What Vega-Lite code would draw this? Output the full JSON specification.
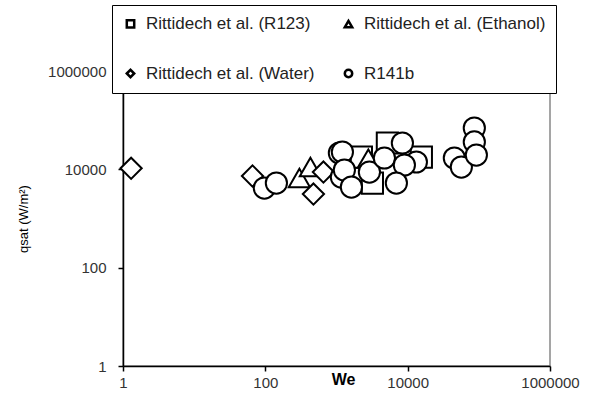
{
  "$schema": "https://vega.github.io/schema/vega-lite/v6.json",
  "width": 427,
  "height": 295,
  "autosize": "none",
  "padding": {"left": 123, "top": 71, "right": 47, "bottom": 36},
  "background": "white",
  "config": {
    "view": {"stroke": "#888888", "strokeWidth": 1.5},
    "font": "Liberation Sans"
  },
  "data": {
    "values": [
      {"series": "Rittidech et al. (R123)", "We": 2237, "q": 17800},
      {"series": "Rittidech et al. (R123)", "We": 3194, "q": 5260},
      {"series": "Rittidech et al. (R123)", "We": 5188, "q": 34350},
      {"series": "Rittidech et al. (R123)", "We": 15570, "q": 17800},
      {"series": "Rittidech et al. (Ethanol)", "We": 301, "q": 6650},
      {"series": "Rittidech et al. (Ethanol)", "We": 430, "q": 11140},
      {"series": "Rittidech et al. (Ethanol)", "We": 2800, "q": 16500},
      {"series": "Rittidech et al. (Water)", "We": 1.3, "q": 10500},
      {"series": "Rittidech et al. (Water)", "We": 66, "q": 7310},
      {"series": "Rittidech et al. (Water)", "We": 474, "q": 3140},
      {"series": "Rittidech et al. (Water)", "We": 655, "q": 8810},
      {"series": "R141b", "We": 97, "q": 4160},
      {"series": "R141b", "We": 143, "q": 5260},
      {"series": "R141b", "We": 1098, "q": 21500},
      {"series": "R141b", "We": 1210, "q": 22500},
      {"series": "R141b", "We": 1172, "q": 6970},
      {"series": "R141b", "We": 1290, "q": 9680},
      {"series": "R141b", "We": 1620, "q": 4360},
      {"series": "R141b", "We": 2900, "q": 8810},
      {"series": "R141b", "We": 4710, "q": 17000},
      {"series": "R141b", "We": 8430, "q": 34350},
      {"series": "R141b", "We": 13250, "q": 14090},
      {"series": "R141b", "We": 8990, "q": 12250},
      {"series": "R141b", "We": 6940, "q": 5260},
      {"series": "R141b", "We": 45300, "q": 17000},
      {"series": "R141b", "We": 56800, "q": 11140},
      {"series": "R141b", "We": 86400, "q": 69300},
      {"series": "R141b", "We": 86400, "q": 36000},
      {"series": "R141b", "We": 92300, "q": 19550}
    ]
  },
  "mark": {
    "type": "point",
    "filled": true,
    "fill": "white",
    "stroke": "black",
    "strokeWidth": 2,
    "size": 450,
    "opacity": 1
  },
  "encoding": {
    "x": {
      "field": "We",
      "type": "quantitative",
      "scale": {"type": "log", "domain": [1, 1000000]},
      "axis": {
        "values": [1, 100, 10000, 1000000],
        "format": "d",
        "grid": false,
        "domainColor": "black",
        "domainWidth": 1.5,
        "tickColor": "black",
        "tickWidth": 1.5,
        "tickSize": 5,
        "labelFontSize": 15,
        "labelColor": "#333333",
        "labelPadding": 4,
        "labelFlush": false,
        "labelOverlap": false,
        "title": "We",
        "titleFontSize": 16,
        "titleFontWeight": "bold",
        "titleColor": "black",
        "titleX": 220,
        "titleY": 13,
        "titleBaseline": "middle"
      }
    },
    "y": {
      "field": "q",
      "type": "quantitative",
      "scale": {"type": "log", "domain": [1, 1000000]},
      "axis": {
        "values": [1, 100, 10000, 1000000],
        "format": "d",
        "grid": false,
        "domainColor": "black",
        "domainWidth": 1.5,
        "tickColor": "black",
        "tickWidth": 1.5,
        "tickSize": 5,
        "labelFontSize": 15,
        "labelColor": "#333333",
        "labelPadding": 12,
        "labelFlush": false,
        "labelOverlap": false,
        "title": "qsat (W/m²)",
        "titleFontSize": 13,
        "titleFontWeight": "normal",
        "titleColor": "black",
        "titlePadding": 17
      }
    },
    "shape": {
      "field": "series",
      "type": "nominal",
      "sort": null,
      "scale": {
        "domain": ["Rittidech et al. (R123)", "Rittidech et al. (Ethanol)", "Rittidech et al. (Water)", "R141b"],
        "range": ["square", "triangle-up", "diamond", "circle"]
      },
      "legend": {
        "title": null,
        "orient": "none",
        "legendX": -11,
        "legendY": -66,
        "direction": "horizontal",
        "columns": 2,
        "fillColor": "white",
        "strokeColor": "black",
        "padding": 10,
        "rowPadding": 31,
        "columnPadding": 24,
        "symbolSize": 55,
        "symbolStrokeWidth": 2.5,
        "labelFontSize": 17,
        "labelColor": "#222222",
        "labelOffset": 7,
        "labelLimit": 300,
        "encode": {
          "symbols": {
            "update": {
              "fill": {"value": "white"},
              "stroke": {"value": "black"},
              "strokeWidth": {"value": 2.5},
              "size": {"value": 55},
              "opacity": {"value": 1}
            }
          }
        }
      }
    }
  }
}
